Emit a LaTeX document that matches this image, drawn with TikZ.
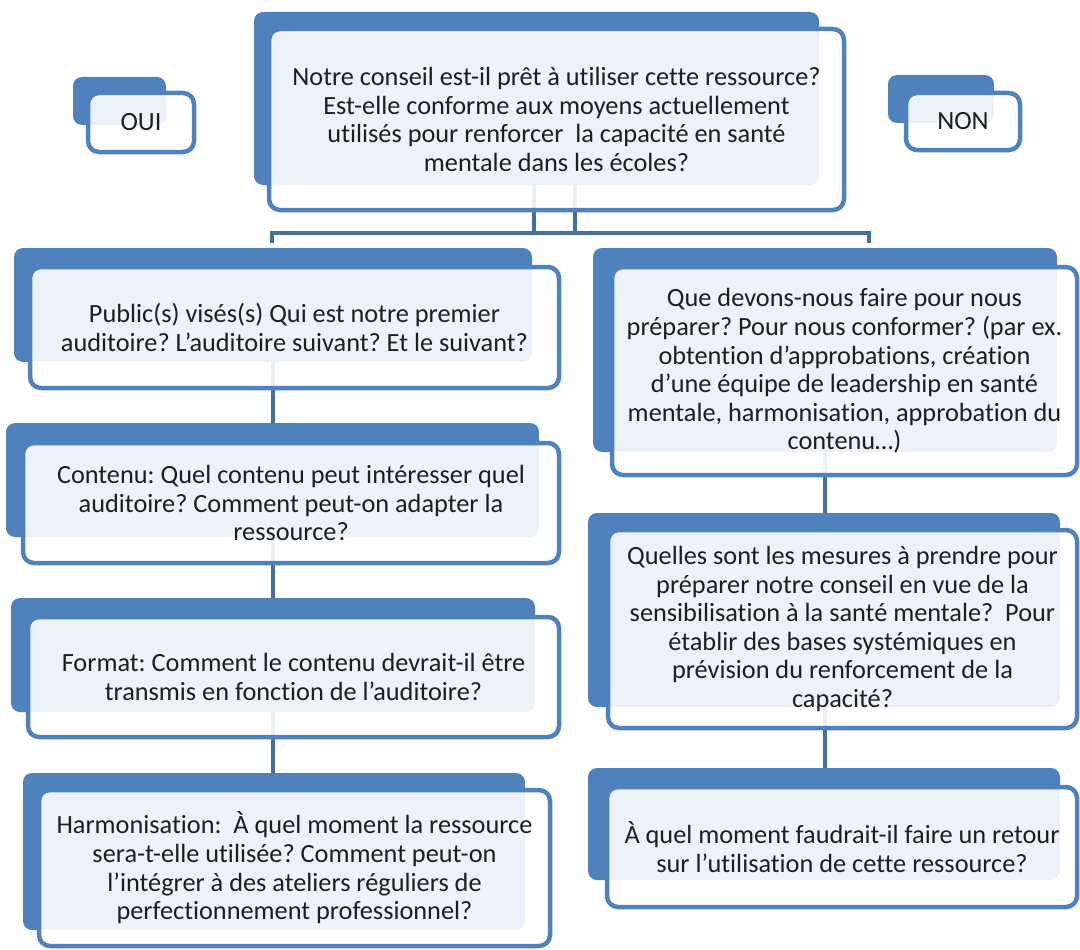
\documentclass[tikz,border=0pt]{standalone}
\usepackage{fontspec}
\setmainfont{Carlito}[Ligatures=NoCommon]
\frenchspacing
\pgfdeclarelayer{bg}
\pgfsetlayers{bg,main}
\definecolor{boxblue}{HTML}{4F81BD}
\definecolor{connblue}{HTML}{44709F}
\definecolor{txt}{HTML}{1E1E1E}
\tikzset{
  backbox/.style={fill=boxblue, rounded corners=9pt},
  frontbox/.style={draw=boxblue, line width=4.5pt, fill=white, fill opacity=0.9, text opacity=1,
    rounded corners=11pt, inner sep=0pt, align=center, text=txt,
    font=\fontsize{26.3}{28.6}\selectfont},
  conn/.style={draw=connblue, line width=4pt}
}
\begin{document}
\begin{tikzpicture}[x=1pt,y=-1pt]
\useasboundingbox (0,0) rectangle (1080,950);
% ---- top question
\fill[backbox] (254,12) rectangle (819,185);
\node[frontbox, minimum width=575pt, minimum height=181pt] (top) at (556.5,119.5)
 {Notre conseil est-il prêt à utiliser cette ressource?\\Est-elle conforme aux moyens actuellement\\utilisés pour renforcer\ \ la capacité en santé\\mentale dans les écoles?};
% ---- OUI / NON
\fill[backbox] (73,77) rectangle (166,125);
\node[frontbox, minimum width=106pt, minimum height=59pt] (oui) at (141,122.5) {OUI};
\fill[backbox] (888,75) rectangle (994,123);
\node[frontbox, minimum width=114pt, minimum height=57pt] (non) at (963,121.5) {NON};
% ---- left column
\fill[backbox] (14,248) rectangle (532,362);
\node[frontbox, minimum width=529pt, minimum height=121pt] (l1) at (294.5,327.5)
 {Public(s) visés(s) Qui est notre premier\\auditoire? L’auditoire suivant? Et le suivant?};
\fill[backbox] (6,423) rectangle (539,537);
\node[frontbox, minimum width=536pt, minimum height=120pt] (l2) at (291,503)
 {Contenu: Quel contenu peut intéresser quel\\auditoire? Comment peut-on adapter la\\ressource?};
\fill[backbox] (11,598) rectangle (535,712);
\node[frontbox, minimum width=531pt, minimum height=120pt] (l3) at (293.5,677)
 {Format: Comment le contenu devrait-il être\\transmis en fonction de l’auditoire?};
\fill[backbox] (23,773) rectangle (525,930);
\node[frontbox, minimum width=511pt, minimum height=156pt] (l4) at (294.5,868)
 {Harmonisation:\ \ À quel moment la ressource\\sera-t-elle utilisée? Comment peut-on\\l’intégrer à des ateliers réguliers de\\perfectionnement professionnel?};
% ---- right column
\fill[backbox] (593,248) rectangle (1057,452);
\node[frontbox, minimum width=465pt, minimum height=208pt] (r1) at (844.5,371)
 {Que devons-nous faire pour nous\\préparer? Pour nous conformer? (par ex.\\obtention d’approbations, création\\d’une équipe de leadership en santé\\mentale, harmonisation, approbation du\\contenu…)};
\fill[backbox] (588,513) rectangle (1060,707);
\node[frontbox, minimum width=469pt, minimum height=198pt] (r2) at (842.5,629)
 {Quelles sont les mesures à prendre pour\\préparer notre conseil en vue de la\\sensibilisation à la santé mentale?\ \ Pour\\établir des bases systémiques en\\prévision du renforcement de la\\capacité?};
\fill[backbox] (588,768) rectangle (1060,880);
\node[frontbox, minimum width=470pt, minimum height=120pt] (r3) at (842,847)
 {À quel moment faudrait-il faire un retour\\sur l’utilisation de cette ressource?};
% ---- connectors
\coordinate (v1) at (534,233);
\coordinate (v2) at (575,233);
\coordinate (barL) at (272,233);
\coordinate (barR) at (869,233);
\coordinate (dropL) at (272,243);
\coordinate (dropR) at (869,243);
\coordinate (lx) at (273,0);
\coordinate (rx) at (825,0);
\begin{pgfonlayer}{bg}
\draw[conn] (v1 |- top.center) -- (v1);
\draw[conn] (v2 |- top.center) -- (v2);
\draw[conn] (dropL) -- (barL) -- (barR) -- (dropR);
\draw[conn] (lx |- l1.center) -- (lx |- l2.center);
\draw[conn] (lx |- l2.center) -- (lx |- l3.center);
\draw[conn] (lx |- l3.center) -- (lx |- l4.center);
\draw[conn] (rx |- r1.center) -- (rx |- r2.center);
\draw[conn] (rx |- r2.center) -- (rx |- r3.center);
\end{pgfonlayer}
\end{tikzpicture}
\end{document}
